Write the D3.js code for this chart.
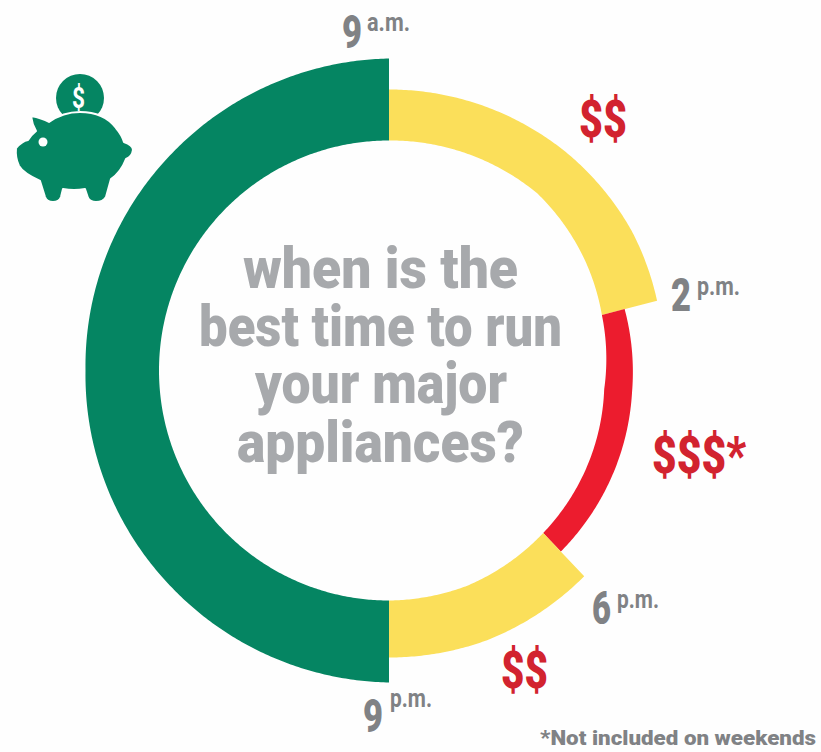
<!DOCTYPE html>
<html>
<head>
<meta charset="utf-8">
<title>Best time to run major appliances</title>
<script src="https://cdn.jsdelivr.net/npm/d3@7/dist/d3.min.js"></script>
<style>
  html, body { margin: 0; padding: 0; background: #fefefe; }
  svg { display: block; }
  text { font-family: Roboto, "Liberation Sans", sans-serif; }
</style>
</head>
<body>
<svg id="chart" width="821" height="752"></svg>
<script>
// Rate periods through the day, in order, on a 24h clock,
// with 33 standing for 9 a.m. the following morning.
const periodStart = [9, 14, 18, 21];
const periodEnd = [14, 18, 21, 33];
const periodTier = ["mid", "peak", "mid", "off"];
const periodCost = ["$$", "$$$*", "$$", ""];

// The dial is not drawn to scale: each boundary hour has its own position, in degrees clockwise from 12.
const dialHours = [9, 14, 18, 21, 33];
const dialDegrees = [0, 75.4, 136.5, 180, 360];

const timeDigits = ["9", "2", "6", "9"];
const timeSuffixes = ["a.m.", "p.m.", "p.m.", "p.m."];
const titleLines = ["when is the", "best time to run", "your major", "appliances?"];
const footnote = "*Not included on weekends";

const tierColor = d3.scaleOrdinal()
  .domain(["off", "mid", "peak"])
  .range(["#058562", "#fbdf5a", "#ec1c2e"]);

const svg = d3.select("#chart");
const hourToDegree = d3.scaleLinear().domain(dialHours).range(dialDegrees);
const toRadians = d3.scaleLinear().domain([0, 360]).range([0, 2 * Math.PI]);

// Ring thickness changes around the dial, so each band edge follows a radius profile.
const ringProfiles = [
  { deg: [0, 40, 60, 75.4], inner: [230, 231, 225, 220], outer: [281, 281, 280, 277] },
  { deg: [75.4, 95, 136.5], inner: [220, 216, 224], outer: [243.5, 244, 249.6] },
  { deg: [136.5, 160, 180], inner: [224, 229, 230], outer: [283.6, 287, 287] },
  { deg: [180, 225, 270, 315, 360], inner: [230, 230, 230, 230, 230], outer: [312, 307, 303.5, 307, 312] }
];

const ring = svg.append("g").attr("transform", "translate(389,370.5)");

ring.selectAll("path")
  .data(periodStart.map((start, i) => ({ start, end: periodEnd[i], tier: periodTier[i], profile: ringProfiles[i] })))
  .join("path")
  .attr("fill", d => tierColor(d.tier))
  .attr("d", d => {
    const from = hourToDegree(d.start);
    const to = hourToDegree(d.end);
    const inner = d3.scaleLinear().domain(d.profile.deg).range(d.profile.inner);
    const outer = d3.scaleLinear().domain(d.profile.deg).range(d.profile.outer);
    const steps = d3.range(from, to, 0.5).concat(to);
    return d3.areaRadial()
      .angle(a => toRadians(a))
      .innerRadius(a => inner(a))
      .outerRadius(a => outer(a))(steps);
  });

// Fits a run of text to a measured left/right extent using a squeezed bold face.
function fitted(str, x0, x1, baseline, size, color, weight) {
  return svg.append("text")
    .attr("x", x0)
    .attr("y", baseline)
    .attr("font-size", size)
    .attr("font-weight", weight)
    .attr("fill", color)
    .attr("textLength", x1 - x0)
    .attr("lengthAdjust", "spacingAndGlyphs")
    .text(str);
}

// Central question
const titleExtents = [[243, 518, 288], [199, 562, 346], [255, 507, 403], [237, 524, 462]];
titleLines.forEach((line, i) => {
  const [x0, x1, y] = titleExtents[i];
  fitted(line, x0, x1, y, 58, "#a7a9ac", 900);
});

// Boundary times
const grey = "#808285";
const digitExtents = [[342, 362, 48], [671, 691, 311], [592, 611, 624], [363, 383, 732]];
const suffixExtents = [[367, 410, 31], [697, 740, 295], [617, 659, 608], [390, 432, 707]];
timeDigits.forEach((digit, i) => {
  const [x0, x1, y] = digitExtents[i];
  fitted(digit, x0, x1, y, 47, grey, 900);
  const [sx0, sx1, sy] = suffixExtents[i];
  fitted(timeSuffixes[i], sx0, sx1, sy, 26, grey, 700);
});

// Cost markers beside the coloured bands
const costRed = "#d2232f";
const costExtents = [[579, 627, 137], [652, 746, 473], [501, 548, 688]];
periodCost.filter(Boolean).forEach((cost, i) => {
  const [x0, x1, y] = costExtents[i];
  fitted(cost, x0, x1, y, 52, costRed, 900);
});

fitted(footnote, 540, 816, 745, 21, grey, 900);

// Piggy bank icon
const icon = svg.append("g");
const iconGreen = "#058562";
icon.append("circle").attr("cx", 80).attr("cy", 98).attr("r", 24).attr("fill", iconGreen);
fitted("$", 72, 85, 108, 30, "#fefefe", 700);
icon.append("path")
  .attr("fill", iconGreen)
  .attr("stroke", "#fefefe")
  .attr("stroke-width", 2)
  .attr("stroke-linejoin", "round")
  .attr("d", "M31 116 Q42 118 49 122 Q63 112 80 112 Q104 112 116 128 Q122 135 124 142 Q133 145 133 150 Q132 157 126 159 Q121 172 111 179 L106 197 Q103 202 96 202 Q90 202 88 198 L85 189 Q74 191 63 189 L61 197 Q59 202 53 202 Q47 202 45 197 L40 181 Q23 173 19 166 Q15 158 16 148 Q22 141 28 140 Q31 135 36 131 Q32 124 31 116 Z");
icon.append("circle").attr("cx", 43).attr("cy", 142).attr("r", 4.5).attr("fill", "#fefefe");
</script>
</body>
</html>
